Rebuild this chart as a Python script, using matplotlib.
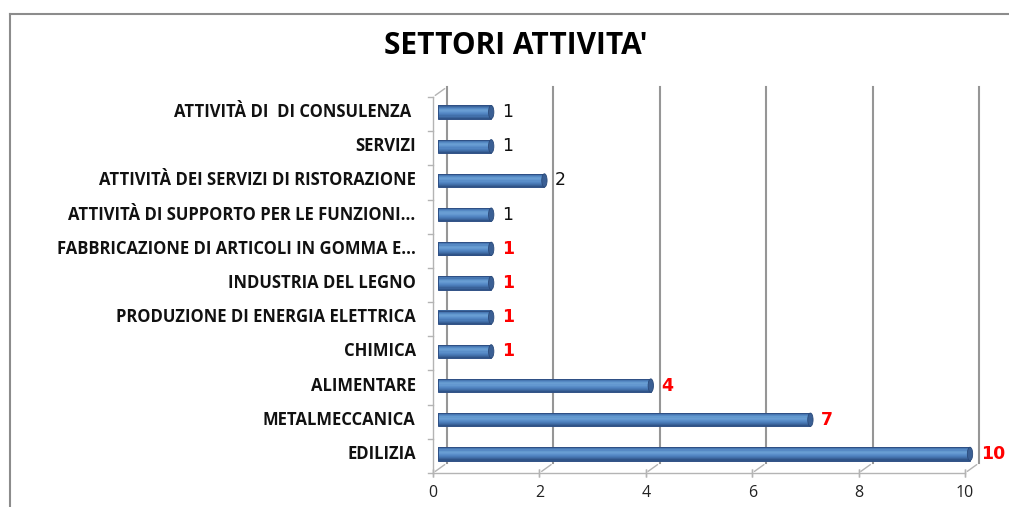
import numpy as np
import matplotlib.pyplot as plt
import matplotlib.transforms as mtransforms
from matplotlib.patches import Ellipse

# Data (top to bottom as in the chart)
categories = [
    "ATTIVITÀ DI  DI CONSULENZA ",
    "SERVIZI",
    "ATTIVITÀ DEI SERVIZI DI RISTORAZIONE",
    "ATTIVITÀ DI SUPPORTO PER LE FUNZIONI...",
    "FABBRICAZIONE DI ARTICOLI IN GOMMA E...",
    "INDUSTRIA DEL LEGNO",
    "PRODUZIONE DI ENERGIA ELETTRICA",
    "CHIMICA",
    "ALIMENTARE",
    "METALMECCANICA",
    "EDILIZIA",
]
values = [1, 1, 2, 1, 1, 1, 1, 1, 4, 7, 10]
label_red = [False, False, False, False, True, True, True, True, True, True, True]
x_ticks = [0, 2, 4, 6, 8, 10]

W, H = 1009, 507
fig = plt.figure(figsize=(W / 100, H / 100), dpi=100)

# outer chart border (only top and left visible)
fig.add_artist(plt.Line2D([10 / W, 1.0], [1 - 14 / H, 1 - 14 / H], color="#8c8c8c", lw=1.5))
fig.add_artist(plt.Line2D([10 / W, 10 / W], [0, 1 - 14 / H], color="#8c8c8c", lw=1.5))

fig.text(516 / W, 1 - 46 / H, "SETTORI ATTIVITA'", ha="center", va="center",
         fontsize=21.5, fontweight="bold", family="Open Sans")

# front plane of the pseudo-3D plot
left, right, top, bottom = 433, 965, 97, 473
ax = fig.add_axes([left / W, 1 - bottom / H, (right - left) / W, (bottom - top) / H])
n = len(categories)
ax.set_xlim(0, 10)
ax.set_ylim(-0.5, n - 0.5)
ax.axis("off")

dx, dy = 14, 10
back = mtransforms.offset_copy(ax.transData, fig=fig, x=dx, y=dy, units="dots")
mid = mtransforms.offset_copy(ax.transData, fig=fig, x=5, y=2, units="dots")
grid_c = "#969696"
wall_c = "#b4b4b4"
ymin, ymax = -0.5, n - 0.5

# back wall gridlines
for t in x_ticks:
    ax.plot([t, t], [ymin, ymax], color=grid_c, lw=1.5, transform=back, clip_on=False)
# left wall: front vertical + top edge
ax.plot([0, 0], [ymin, ymax], color=wall_c, lw=1, clip_on=False)
ax.annotate("", xy=(0, ymax), xycoords=back, xytext=(0, ymax), textcoords="data",
            arrowprops=dict(arrowstyle="-", color=wall_c, lw=1))
# floor: front line and depth lines
ax.plot([0, 10], [ymin, ymin], color=wall_c, lw=1, clip_on=False)
for t in x_ticks:
    ax.annotate("", xy=(t, ymin), xycoords=back, xytext=(t, ymin), textcoords="data",
                arrowprops=dict(arrowstyle="-", color=wall_c, lw=1))
    ax.plot([t, t], [ymin, ymin], marker=(2, 0, 0), ms=6, color=wall_c, clip_on=False)
    ax.text(t, ymin, str(t), transform=mtransforms.offset_copy(ax.transData, fig=fig, y=-20, units="dots"),
            ha="center", va="center", fontsize=11.5, family="Open Sans", color="#222222")

# category ticks on the left wall
for k in range(n + 1):
    ax.plot([0, -0.1], [k - 0.5, k - 0.5], color=wall_c, lw=1, clip_on=False)

# bars as cylinders: stacked bands for a shaded look (bottom to top)
ypos = np.arange(n)[::-1]
bh = 0.39
shades = ["#2f5488", "#3a6299", "#4270aa", "#4a7bb7", "#5285c2", "#5a8ec9",
          "#6398d0", "#699dd3", "#6399ce", "#5689c4", "#4878b2", "#3b659c"]
nb = len(shades)
for i, c in enumerate(shades):
    yc = ypos - bh / 2 + bh * (i + 0.5) / nb
    ax.barh(yc, values, height=bh / nb * 1.05, color=c, lw=0,
            transform=mid, clip_on=False, zorder=4)
ax.barh(ypos, values, height=bh, fill=False, edgecolor="#2f5085", lw=0.7,
        transform=mid, clip_on=False, zorder=5)
for y, v in zip(ypos, values):
    ax.add_patch(Ellipse((v, y), 0.1, bh, facecolor="#3a5f94", edgecolor="#2a4a7a",
                         lw=0.6, transform=mid, clip_on=False, zorder=6))

# category labels and value labels
for y, cat, v, red in zip(ypos, categories, values, label_red):
    ax.text(-0.42, y, cat, ha="right", va="center", fontsize=12, fontweight="bold",
            family="Open Sans", color="#111111", transform=mid)
    ax.text(v + 0.2, y, str(v), ha="left", va="center", fontsize=12.5,
            fontweight="bold" if red else "normal",
            color="#ff0000" if red else "#111111", family="DejaVu Sans", transform=mid)

fig.savefig("out.png", dpi=100)
